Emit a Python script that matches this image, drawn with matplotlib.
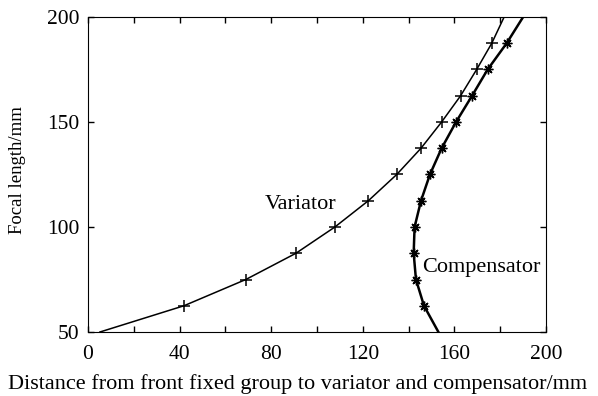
import matplotlib.pyplot as plt
import numpy as np

plt.rcParams['font.family'] = ['Liberation Serif', 'DejaVu Serif']

# focal length steps (mm)
focal = [50, 62.5, 75, 87.5, 100, 112.5, 125, 137.5, 150, 162.5, 175, 187.5, 200]
# variator position from front fixed group (mm)
variator = [5.2, 41.9, 68.9, 90.8, 107.8, 122.4, 134.8, 145.4, 154.4, 162.7, 169.7, 176.3, 181.7]
# compensator position (mm)
compensator = [153.0, 146.7, 143.2, 142.2, 142.6, 145.4, 149.3, 154.4, 160.7, 167.7, 174.5, 182.8, 190.0]

fs = 16

fig = plt.figure(figsize=(5.98, 3.96), dpi=100)
ax = fig.add_axes([0.1472, 0.1616, 0.7659, 0.7955])

ax.plot(variator, focal, color='black', lw=1.1)
ax.plot(variator[1:-1], focal[1:-1], ls='none', marker='+', ms=8, mew=1.1, color='black')
ax.plot(compensator, focal, color='black', lw=1.8)
ax.plot(compensator[1:-1], focal[1:-1], ls='none', marker=(8, 2, 0), ms=7, mew=1.0, color='black')

ax.set_xlim(0, 200)
ax.set_ylim(50, 200)
ax.set_xticks(np.arange(0, 201, 40))
ax.set_xticks(np.arange(0, 201, 20), minor=True)
ax.set_yticks([50, 100, 150, 200])
ax.tick_params(which='both', direction='in', top=True, right=True, labelsize=15.5, length=4, width=1)
ax.tick_params(axis='x', pad=9)
ax.tick_params(axis='y', pad=6)

ax.text(77, 110.5, 'Variator', fontsize=fs, ha='left', va='center')
ax.text(146, 80.5, 'Compensator', fontsize=fs, ha='left', va='center')

ax.set_xlabel('Distance from front fixed group to variator and compensator/mm', fontsize=fs)
ax.xaxis.set_label_coords(0.4585, -0.134)
ax.set_ylabel('Focal length/mm', fontsize=13.5)
ax.yaxis.set_label_coords(-0.136, 0.515)

fig.savefig('out.png', dpi=100)
